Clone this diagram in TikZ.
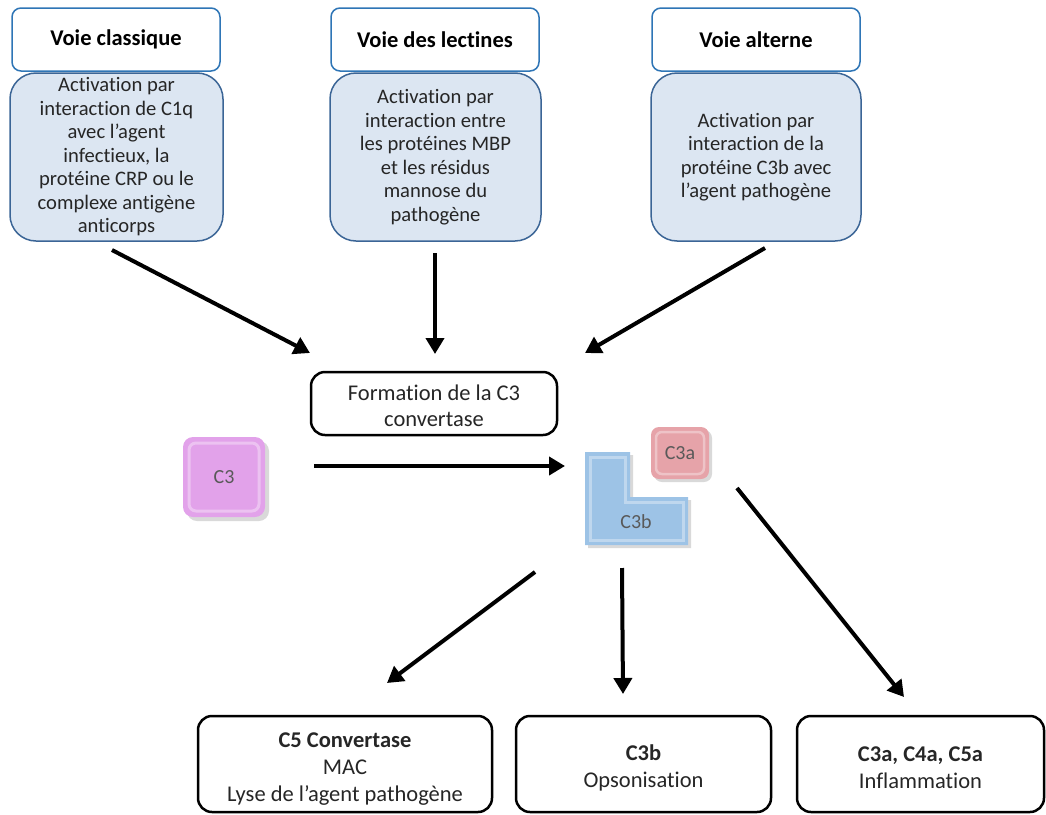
\documentclass[tikz,border=0pt]{standalone}
\usepackage{fontspec}
\setmainfont{Carlito}[Ligatures=NoCommon]
\usetikzlibrary{arrows.meta}
\definecolor{boxblue}{HTML}{DCE6F2}
\definecolor{edgeblue}{HTML}{4A7EBB}
\definecolor{titleblue}{HTML}{2E75B6}
\definecolor{txt}{HTML}{262626}
\definecolor{purp}{HTML}{E2A2EA}
\definecolor{pinkc}{HTML}{E6A3A9}
\definecolor{bluec}{HTML}{9DC3E6}
\definecolor{lbl}{HTML}{595959}
\tikzset{
  titlebox/.style={draw=titleblue, line width=1.5pt, rounded corners=9pt, fill=white,
    minimum width=208pt, minimum height=63pt, font=\fontsize{22.5}{26}\selectfont\bfseries, text=black},
  descbox/.style={draw=edgeblue!80!black, line width=1.5pt, rounded corners=26pt, fill=boxblue,
    align=center, text=txt, font=\fontsize{20.6}{23.5}\selectfont},
  outbox/.style={draw=black, line width=2.5pt, rounded corners=14pt, fill=white},
  outtext/.style={align=center, text=txt, font=\fontsize{22.5}{27}\selectfont},
  arr/.style={line width=4pt, -{Triangle[length=16pt,width=18pt]}},
  blocklbl/.style={text=lbl, font=\fontsize{20}{24}\selectfont},
}
\begin{document}
\begin{tikzpicture}[x=1pt,y=-1pt]
\useasboundingbox (0,0) rectangle (1046,814);

% top titles
\node[titlebox] (t1) at (116,39.5) {Voie classique};
\node[titlebox] (t2) at (435,39.5) {Voie des lectines};
\node[titlebox] (t3) at (756,39.5) {Voie alterne};

% description boxes
\node[descbox, minimum width=213pt, minimum height=168pt] (d1) at (116.5,157)
  {Activation par\\interaction de C1q\\avec l’agent\\infectieux, la\\protéine CRP ou le\\complexe antigène\\anticorps};
\node[descbox, minimum width=211pt, minimum height=168pt] (d2) at (435.5,157)
  {Activation par\\interaction entre\\les protéines MBP\\et les résidus\\mannose du\\pathogène};
\node[descbox, minimum width=210pt, minimum height=168pt] (d3) at (756,157)
  {Activation par\\interaction de la\\protéine C3b avec\\l’agent pathogène};

% formation
\node[outbox, minimum width=246pt, minimum height=63pt] (f) at (434,403.5) {};
\node[outtext, font=\fontsize{22.5}{26}\selectfont] (ft) at (434,405.5) {Formation de la C3\\convertase};

% arrow coordinates
\coordinate (a1s) at (112,250); \coordinate (a1e) at (310,353);
\coordinate (a2s) at (435,253); \coordinate (a2e) at (435,354);
\coordinate (a3s) at (765,248); \coordinate (a3e) at (585,353);
\draw[arr] (a1s) -- (a1e);
\draw[arr] (a2s) -- (a2e);
\draw[arr] (a3s) -- (a3e);

% C3 block
\fill[black, opacity=0.15, rounded corners=10pt] (187,441) rectangle (269,521);
\fill[purp, rounded corners=10pt] (183,437) rectangle (265,517);
\draw[white, opacity=0.35, line width=3pt, rounded corners=7pt] (189,443) rectangle (259,511);
\node[blocklbl] (c3) at (224,477) {C3};

% C3 -> C3b arrow
\coordinate (cs) at (314,466); \coordinate (ce) at (565,466);
\draw[arr] (cs) -- (ce);

% C3b L shape
\fill[black, opacity=0.15] (588,455) -- (633,455) -- (633,500) -- (691,500) -- (691,548) -- (588,548) -- cycle;
\fill[bluec] (585,452) -- (630,452) -- (630,497) -- (688,497) -- (688,545) -- (585,545) -- cycle;
\draw[white, opacity=0.35, line width=3pt] (590,457) -- (625,457) -- (625,502) -- (683,502) -- (683,540) -- (590,540) -- cycle;
\node[blocklbl] (c3b) at (636,522) {C3b};

% C3a block
\fill[black, opacity=0.15, rounded corners=8pt] (654,430) rectangle (712,482);
\fill[pinkc, rounded corners=8pt] (651,427) rectangle (709,479);
\draw[white, opacity=0.35, line width=2.5pt, rounded corners=6pt] (656,432) rectangle (704,474);
\node[blocklbl] (c3a) at (680,453) {C3a};

% outputs
\node[outbox, minimum width=294pt, minimum height=96pt] (o1) at (345,764) {};
\node[outtext] (o1t) at (345,769) {\textbf{C5 Convertase}\\MAC\\Lyse de l’agent pathogène};
\node[outbox, minimum width=255pt, minimum height=96pt] (o2) at (643.5,764) {};
\node[outtext] (o2t) at (643.5,768) {\textbf{C3b}\\Opsonisation};
\node[outbox, minimum width=247pt, minimum height=96pt] (o3) at (920.5,764) {};
\node[outtext] (o3t) at (920.5,768) {\textbf{C3a, C4a, C5a}\\Inflammation};

\coordinate (b1s) at (535,572); \coordinate (b1e) at (387,683);
\coordinate (b2s) at (622,568); \coordinate (b2e) at (623,694);
\coordinate (b3s) at (737,488); \coordinate (b3e) at (904,697);
\draw[arr] (b1s) -- (b1e);
\draw[arr] (b2s) -- (b2e);
\draw[arr] (b3s) -- (b3e);
\end{tikzpicture}
\end{document}
